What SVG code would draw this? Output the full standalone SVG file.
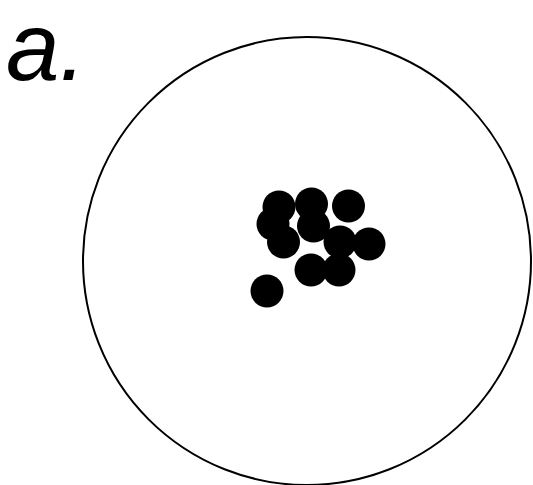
<svg xmlns="http://www.w3.org/2000/svg" width="533" height="485" viewBox="0 0 533 485">
<style>
.dot{fill:#000}
.ring{fill:none;stroke:#000;stroke-width:2}
.lbl{font-family:"Liberation Sans",Arial,sans-serif;font-size:96px;font-style:italic;fill:#000}
</style>
<rect width="533" height="485" fill="#fff"/>
<text class="lbl" x="6" y="80">a.</text>
<g id="boundary"><circle class="ring" cx="307" cy="261" r="224"/></g>
<g id="dots">
<circle class="dot" cx="267" cy="291" r="16.5"/>
<circle class="dot" cx="279" cy="207" r="16.5"/>
<circle class="dot" cx="273" cy="224" r="16.5"/>
<circle class="dot" cx="283.5" cy="242" r="16.5"/>
<circle class="dot" cx="311.5" cy="204" r="16.5"/>
<circle class="dot" cx="348.5" cy="206" r="16.5"/>
<circle class="dot" cx="313.5" cy="226" r="16.5"/>
<circle class="dot" cx="340" cy="242" r="16.5"/>
<circle class="dot" cx="369" cy="244" r="16.5"/>
<circle class="dot" cx="311" cy="270" r="16.5"/>
<circle class="dot" cx="339" cy="270" r="16.5"/>
</g>
</svg>
